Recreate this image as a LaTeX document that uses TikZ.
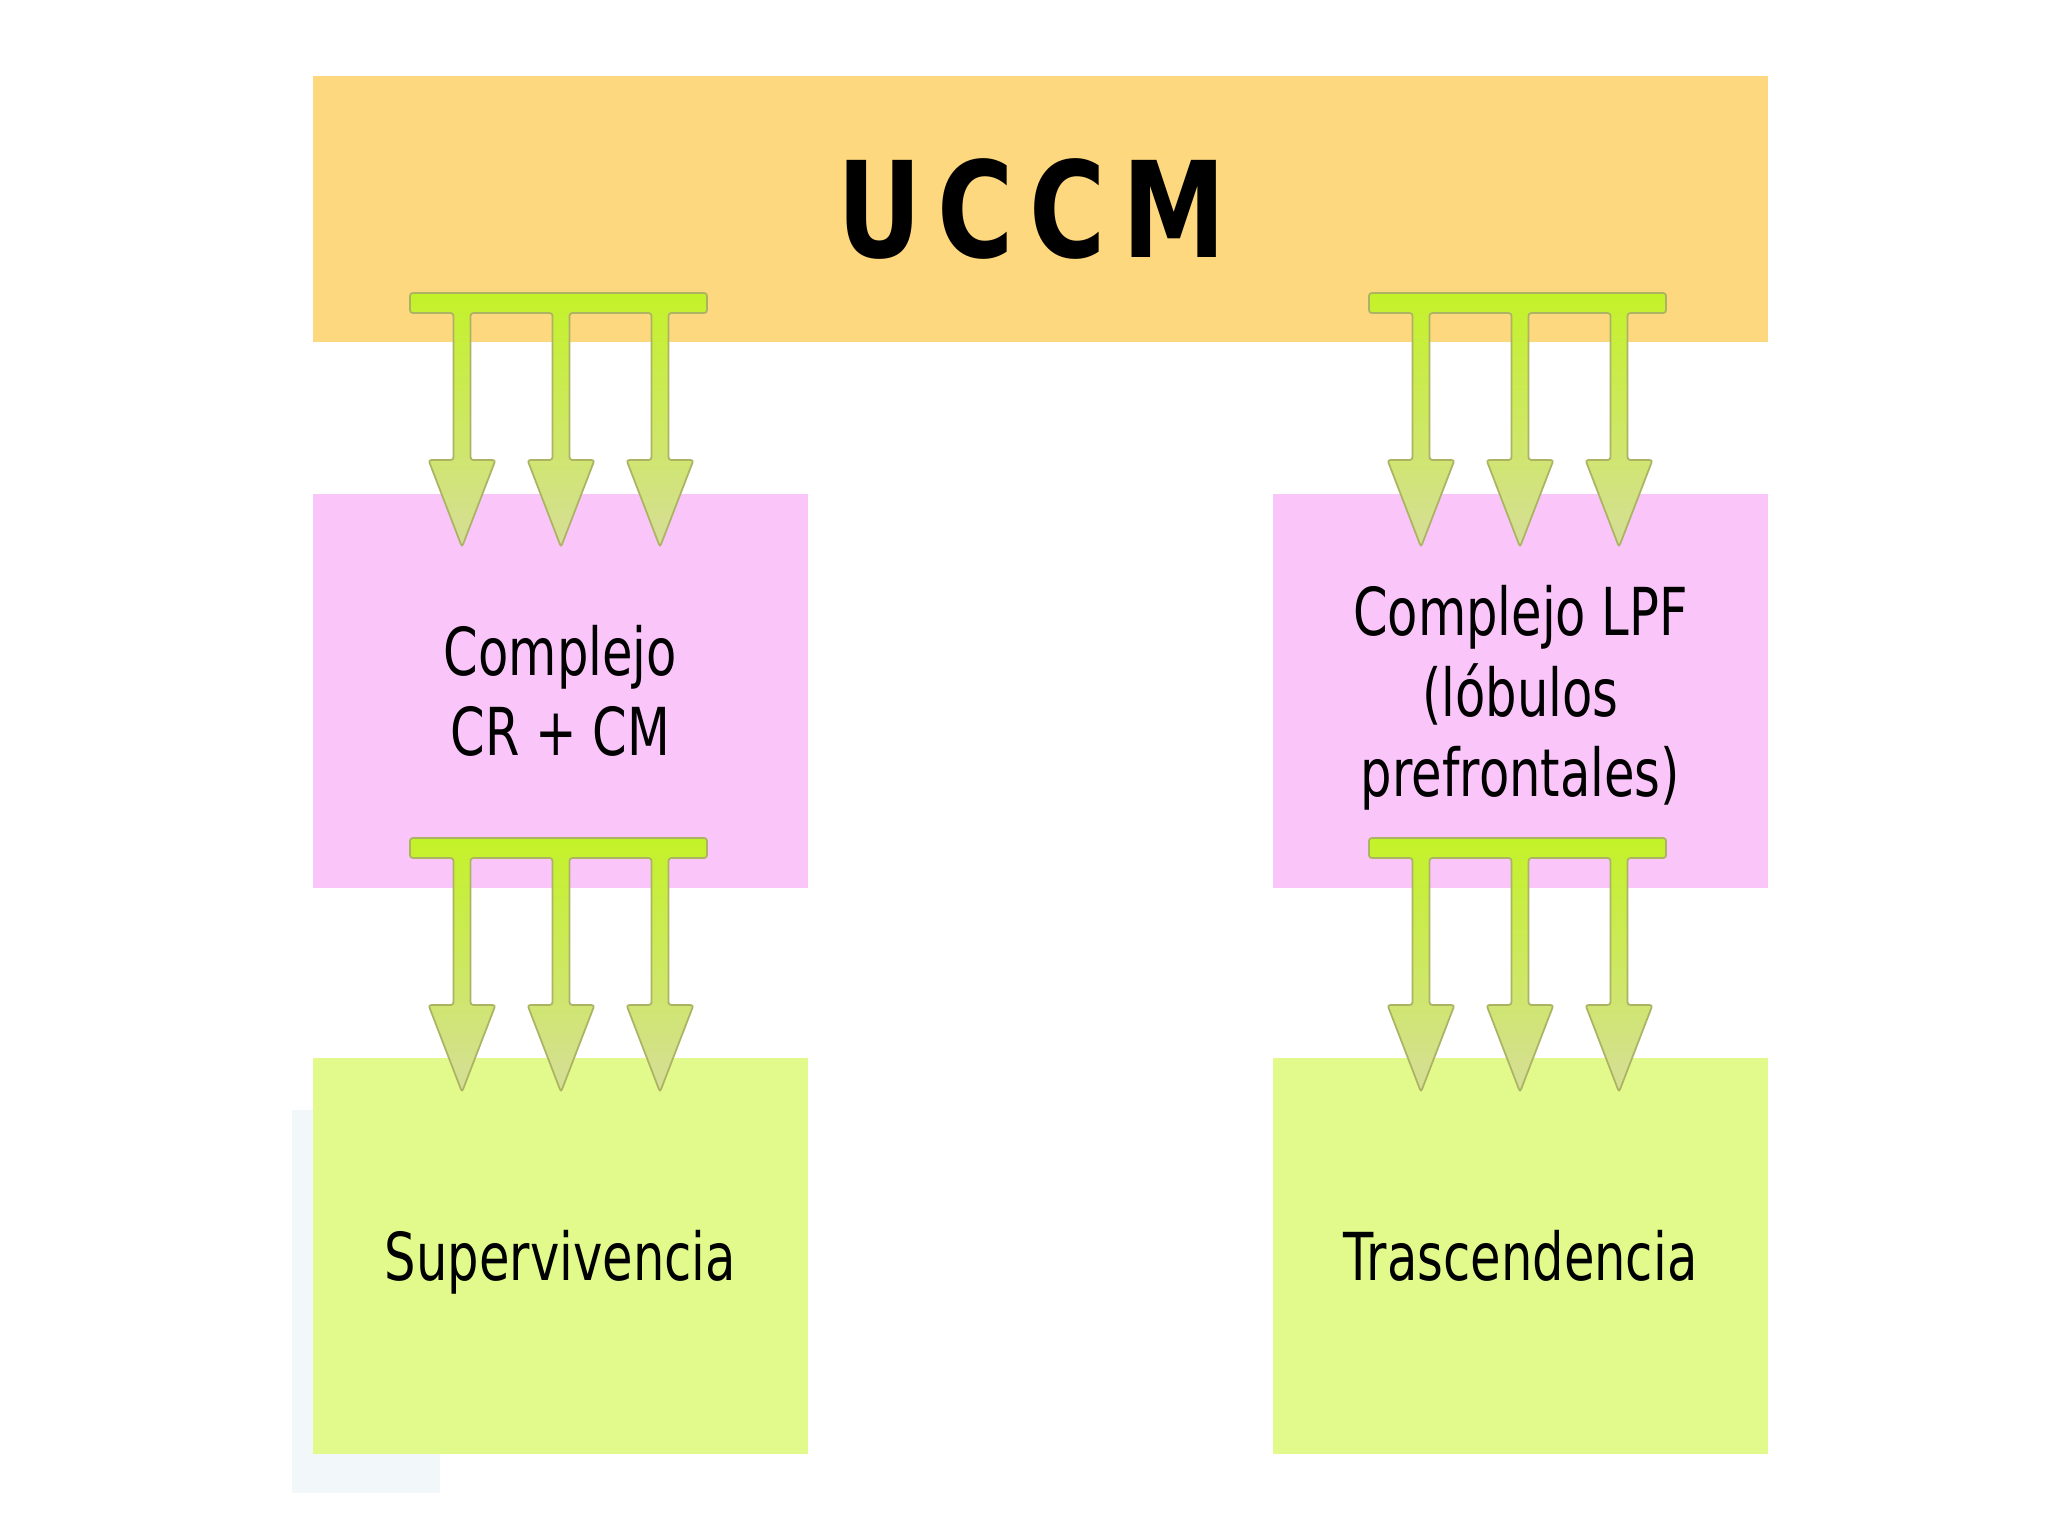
\documentclass[tikz,border=0pt]{standalone}
\usepackage{fontspec}
\setmainfont{DejaVu Sans}[FakeStretch=0.75]
\newfontfamily\titlefont{DejaVu Sans}[FakeStretch=0.78,LetterSpace=12]
\definecolor{bandorange}{RGB}{253,216,126}
\definecolor{boxpink}{RGB}{250,198,250}
\definecolor{boxgreen}{RGB}{226,250,140}
\definecolor{arrowtop}{RGB}{196,242,40}
\definecolor{arrowbot}{RGB}{214,222,152}
\definecolor{arrowedge}{RGB}{172,180,100}
\definecolor{washblue}{RGB}{242,247,249}
\tikzset{
  box/.style={draw=none, inner sep=0pt, minimum width=4.95cm, minimum height=3.94cm,
    align=center, text=black, font=\fontsize{18.8}{22.8}\selectfont},
  oneline/.style={text height=13.7pt, text depth=0pt},
  arrowfill/.style={top color=arrowtop, bottom color=arrowbot, draw=arrowedge,
    line width=0.5pt, rounded corners=0.8pt},
  tridown/.pic={
    \path[arrowfill] (0,0) -- (297,0) -- (297,20)
      -- (258.5,20) -- (258.5,167) -- (283.5,167) -- (250,254) -- (216.5,167) -- (241.5,167) -- (241.5,20)
      -- (159.5,20) -- (159.5,167) -- (184.5,167) -- (151,254) -- (117.5,167) -- (142.5,167) -- (142.5,20)
      -- (60.5,20) -- (60.5,167) -- (85.5,167) -- (52,254) -- (18.5,167) -- (43.5,167) -- (43.5,20)
      -- (0,20) -- cycle;
  }
}
\begin{document}
\begin{tikzpicture}[x=0.01cm, y=-0.01cm]
\useasboundingbox (0,0) rectangle (2048,1536);
\fill[white] (0,0) rectangle (2048,1536);
% faint background wash at lower left
\fill[washblue] (292,1110) rectangle (313,1493);
\fill[washblue] (292,1452) rectangle (440,1493);
% boxes
\node[box, fill=bandorange, minimum width=14.55cm, minimum height=2.66cm,
  font=\titlefont\bfseries\fontsize{37.9}{40}\selectfont] (uccm) at (1040.5,209) {\kern-0.18cm UCCM};
\node[box, fill=boxpink] (crcm) at (560.5,691) {Complejo\\CR + CM};
\node[box, fill=boxpink, text depth=0pt] (lpf) at (1520.5,691) {Complejo LPF\\(lóbulos\\prefrontales)};
\node[box, oneline, fill=boxgreen, minimum height=3.95cm] (superv) at (560.5,1256) {Supervivencia};
\node[box, oneline, fill=boxgreen, minimum height=3.95cm] (trasc) at (1520.5,1256) {Trascendencia};
% arrow groups
\pic at (410,293) {tridown};
\pic at (1369,293) {tridown};
\pic at (410,838) {tridown};
\pic at (1369,838) {tridown};
\end{tikzpicture}
\end{document}
